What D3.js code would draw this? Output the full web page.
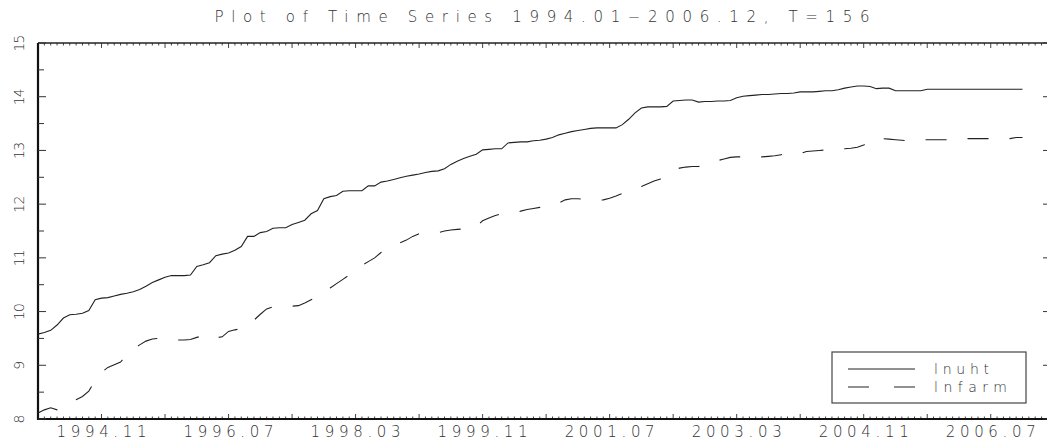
<!DOCTYPE html>
<html>
<head>
<meta charset="utf-8">
<script src="https://cdn.jsdelivr.net/npm/d3@7"></script>
<style>
  body { margin: 0; background: #fff; }
  text { font-family: "DejaVu Sans", sans-serif; font-weight: 300; fill: #333; }
</style>
</head>
<body>
<div id="vis"></div>
<script>
// Time series plot, lnuht vs lnfarm, monthly 1994.01-2006.12

var titleText = 'Plot of Time Series 1994.01\u22122006.12, T=156';
var seriesNames = ['lnuht', 'lnfarm'];

// month labels shown on the x axis (index into the series)
var xTickIndex  = [10, 30, 50, 70, 90, 110, 130, 150];
var xTickLabels = ['1994.11', '1996.07', '1998.03', '1999.11', '2001.07', '2003.03', '2004.11', '2006.07'];
var yTickValues = [8, 9, 10, 11, 12, 13, 14, 15];

var lnuht = [
  9.58, 9.61, 9.65, 9.75, 9.88, 9.94, 9.95, 9.97, 10.02, 10.22,
  10.25, 10.26, 10.29, 10.32, 10.34, 10.37, 10.41, 10.47, 10.54, 10.59,
  10.64, 10.67, 10.67, 10.67, 10.68, 10.84, 10.87, 10.91, 11.04, 11.07,
  11.09, 11.14, 11.21, 11.40, 11.40, 11.47, 11.49, 11.55, 11.56, 11.56,
  11.62, 11.66, 11.70, 11.82, 11.88, 12.10, 12.14, 12.16, 12.24, 12.25,
  12.25, 12.25, 12.34, 12.34, 12.41, 12.43, 12.46, 12.49, 12.52, 12.54,
  12.56, 12.59, 12.61, 12.62, 12.66, 12.74, 12.80, 12.85, 12.89, 12.93,
  13.01, 13.02, 13.03, 13.03, 13.14, 13.15, 13.16, 13.16, 13.18, 13.19,
  13.21, 13.24, 13.29, 13.32, 13.35, 13.37, 13.39, 13.41, 13.42, 13.42,
  13.42, 13.42, 13.48, 13.58, 13.70, 13.79, 13.81, 13.81, 13.81, 13.82,
  13.92, 13.93, 13.94, 13.94, 13.90, 13.91, 13.91, 13.92, 13.92, 13.93,
  13.98, 14.01, 14.02, 14.03, 14.04, 14.04, 14.05, 14.06, 14.06, 14.07,
  14.09, 14.09, 14.09, 14.10, 14.11, 14.11, 14.13, 14.16, 14.18, 14.20,
  14.20, 14.19, 14.15, 14.16, 14.16, 14.11, 14.11, 14.11, 14.11, 14.11,
  14.14, 14.14, 14.14, 14.14, 14.14, 14.14, 14.14, 14.14, 14.14, 14.14,
  14.14, 14.14, 14.14, 14.14, 14.14, 14.14
];

var lnfarm = [
  8.11, 8.17, 8.21, 8.17, 8.24, 8.31, 8.36, 8.42, 8.52, 8.72,
  8.87, 8.96, 9.01, 9.06, 9.20, 9.30, 9.38, 9.45, 9.49, 9.50,
  9.49, 9.48, 9.47, 9.47, 9.48, 9.52, 9.55, 9.57, 9.51, 9.53,
  9.63, 9.66, 9.68, 9.72, 9.84, 9.95, 10.05, 10.09, 10.10, 10.10,
  10.10, 10.11, 10.16, 10.22, 10.28, 10.35, 10.44, 10.52, 10.60, 10.68,
  10.76, 10.86, 10.93, 11.00, 11.10, 11.18, 11.24, 11.28, 11.33, 11.40,
  11.45, 11.47, 11.47, 11.47, 11.50, 11.52, 11.53, 11.54, 11.55, 11.58,
  11.69, 11.74, 11.79, 11.82, 11.83, 11.84, 11.87, 11.90, 11.92, 11.94,
  11.95, 11.98, 12.02, 12.08, 12.10, 12.10, 12.09, 12.07, 12.07, 12.08,
  12.11, 12.15, 12.20, 12.24, 12.28, 12.33, 12.38, 12.43, 12.47, 12.55,
  12.64, 12.67, 12.69, 12.70, 12.70, 12.75, 12.78, 12.81, 12.84, 12.87,
  12.88, 12.88, 12.88, 12.88, 12.88, 12.89, 12.90, 12.92, 12.94, 12.96,
  12.94, 12.98, 12.99, 13.00, 13.01, 13.02, 13.02, 13.03, 13.04, 13.06,
  13.10, 13.17, 13.24, 13.22, 13.21, 13.20, 13.19, 13.18, 13.19, 13.20,
  13.20, 13.20, 13.20, 13.20, 13.21, 13.21, 13.22, 13.22, 13.22, 13.22,
  13.22, 13.22, 13.22, 13.22, 13.24, 13.24
];

var W = 1047, H = 440;
var plot = { left: 38, right: 1046, top: 43, bottom: 419 };

var svg = d3.select('#vis').append('svg')
  .attr('width', W)
  .attr('height', H);

var xScale = d3.scaleLinear().domain([0, 158.7]).range([plot.left, plot.right]);
var yScale = d3.scaleLinear().domain([8, 15]).range([plot.bottom, plot.top]);

// title
svg.append('text')
  .attr('x', 542)
  .attr('y', 22)
  .attr('text-anchor', 'middle')
  .attr('font-size', 15)
  .attr('textLength', 655)
  .attr('lengthAdjust', 'spacing')
  .text(titleText);

// month ticks: every month small, every 10 months larger
var months = d3.range(0, 159);

function monthTickLen(i) { return i % 10 === 0 ? 5 : 2.5; }

svg.append('g').attr('class', 'x-top')
  .selectAll('line').data(months).join('line')
  .attr('x1', d => xScale(d)).attr('x2', d => xScale(d))
  .attr('y1', plot.top).attr('y2', d => plot.top + monthTickLen(d))
  .attr('stroke', '#444').attr('stroke-width', 1);

svg.append('g').attr('class', 'x-bottom')
  .selectAll('line').data(months).join('line')
  .attr('x1', d => xScale(d)).attr('x2', d => xScale(d))
  .attr('y1', plot.bottom).attr('y2', d => plot.bottom - monthTickLen(d))
  .attr('stroke', '#444').attr('stroke-width', 1);

// axis frame lines
svg.append('line')
  .attr('x1', plot.left).attr('x2', W).attr('y1', plot.top).attr('y2', plot.top)
  .attr('stroke', '#222').attr('stroke-width', 1.5);
svg.append('line')
  .attr('x1', plot.left).attr('x2', W).attr('y1', plot.bottom).attr('y2', plot.bottom)
  .attr('stroke', '#111').attr('stroke-width', 2);
svg.append('line')
  .attr('x1', plot.left).attr('x2', plot.left).attr('y1', plot.top).attr('y2', plot.bottom + 1)
  .attr('stroke', '#111').attr('stroke-width', 2.2);

// y ticks, left (integers + halves) and right (integers only)
var halfTicks = d3.range(8, 15.01, 0.5);
svg.append('g').attr('class', 'y-left')
  .selectAll('line').data(halfTicks).join('line')
  .attr('x1', plot.left).attr('x2', d => plot.left + (d % 1 === 0 ? 8 : 6))
  .attr('y1', d => yScale(d)).attr('y2', d => yScale(d))
  .attr('stroke', '#333').attr('stroke-width', 1);

svg.append('g').attr('class', 'y-right')
  .selectAll('line').data(yTickValues).join('line')
  .attr('x1', plot.right - 3).attr('x2', plot.right + 2)
  .attr('y1', d => yScale(d)).attr('y2', d => yScale(d))
  .attr('stroke', '#333').attr('stroke-width', 1);

// y labels, rotated
svg.append('g').attr('class', 'y-labels')
  .selectAll('text').data(yTickValues).join('text')
  .attr('transform', d => `translate(24,${yScale(d)}) rotate(-90)`)
  .attr('text-anchor', 'middle')
  .attr('font-size', 14)
  .attr('textLength', 17)
  .text(d => d);

// x labels
svg.append('g').attr('class', 'x-labels')
  .selectAll('text').data(xTickIndex).join('text')
  .attr('x', d => xScale(d))
  .attr('y', 437)
  .attr('text-anchor', 'middle')
  .attr('font-size', 15)
  .attr('textLength', 90)
  .attr('lengthAdjust', 'spacing')
  .text((d, i) => xTickLabels[i]);

// the two series
var line = d3.line()
  .x((d, i) => xScale(i))
  .y(d => yScale(d));

svg.append('path')
  .datum(lnuht)
  .attr('d', line)
  .attr('fill', 'none')
  .attr('stroke', '#222')
  .attr('stroke-width', 1.1);

svg.append('path')
  .datum(lnfarm)
  .attr('d', line)
  .attr('fill', 'none')
  .attr('stroke', '#222')
  .attr('stroke-width', 1.1)
  .attr('stroke-dasharray', '21,21');

// legend
var legend = svg.append('g').attr('class', 'legend');
legend.append('rect')
  .attr('x', 832).attr('y', 352).attr('width', 194).attr('height', 51)
  .attr('fill', '#fff').attr('stroke', '#444').attr('stroke-width', 1.2);

var dashes = [null, '21,25'];
seriesNames.forEach(function(name, i) {
  var ly = 369 + i * 18;
  legend.append('line')
    .attr('x1', 848).attr('x2', 915).attr('y1', ly).attr('y2', ly)
    .attr('stroke', '#222').attr('stroke-width', 1.1)
    .attr('stroke-dasharray', dashes[i]);
  legend.append('text')
    .attr('x', 934).attr('y', ly + 5)
    .attr('font-size', 14)
    .attr('textLength', i === 0 ? 55 : 73)
    .attr('lengthAdjust', 'spacing')
    .text(name);
});
</script>
</body>
</html>
